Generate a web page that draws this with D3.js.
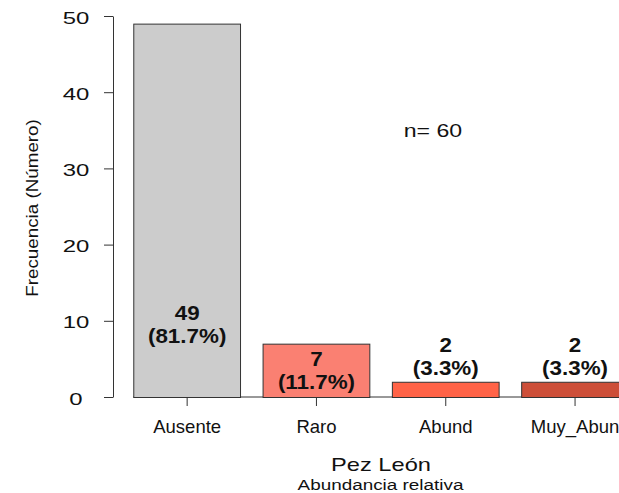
<!DOCTYPE html>
<html>
<head>
<meta charset="utf-8">
<script src="https://cdn.jsdelivr.net/npm/d3@7"></script>
<style>
  body { margin: 0; background: #fff; }
  svg { display: block; font-family: "Liberation Sans", Arial, sans-serif; }
</style>
</head>
<body>
<div id="chart"></div>
<script>
// data
var categories = ["Ausente", "Raro", "Abund", "Muy_Abun"];
var counts = [49, 7, 2, 2];
var percents = ["81.7%", "11.7%", "3.3%", "3.3%"];
var barColors = ["#cccccc", "#fa8072", "#ff6347", "#cd4f39"];
var yTicks = [0, 10, 20, 30, 40, 50];
var total = 60;

var svgWidth = 619;
var svgHeight = 493;

var svg = d3.select("#chart")
    .append("svg")
    .attr("width", svgWidth)
    .attr("height", svgHeight);

// scales
var xScale = d3.scaleBand()
    .domain(categories)
    .range([122.5, 639.7])
    .paddingInner(1 / 6)
    .paddingOuter(1 / 12);

var yScale = d3.scaleLinear()
    .domain([0, 50])
    .range([397, 16]);

// helper for horizontally stretched text
function stretchText(g, x, y, sx, size, weight, txt) {
    return g.append("text")
        .attr("transform", `translate(${x}, ${y}) scale(${sx}, 1)`)
        .attr("text-anchor", "middle")
        .attr("dominant-baseline", "central")
        .style("font-size", size + "px")
        .style("font-weight", weight)
        .attr("fill", "#111")
        .text(txt);
}

// y axis
var leftAxis = d3.axisLeft(yScale)
    .tickValues(yTicks)
    .tickSize(9)
    .tickSizeOuter(0)
    .tickFormat("");

var yAxis = svg.append("g")
    .attr("transform", "translate(113, 0)")
    .call(leftAxis);
yAxis.select(".domain").attr("stroke", "#333");
yAxis.selectAll(".tick line").attr("stroke", "#333");

yTicks.forEach(function (t) {
    stretchText(svg, 76, yScale(t) + 1.5, 1.45, 16.5, "normal", t);
});

// y title
svg.append("text")
    .attr("transform", "translate(32, 208) rotate(-90) scale(1.14, 1)")
    .attr("text-anchor", "middle")
    .attr("dominant-baseline", "central")
    .style("font-size", "16.5px")
    .attr("fill", "#111")
    .text("Frecuencia (Número)");

// baseline under the bars
svg.append("line")
    .attr("x1", xScale(categories[0]))
    .attr("x2", xScale(categories[categories.length - 1]) + xScale.bandwidth())
    .attr("y1", yScale(0))
    .attr("y2", yScale(0))
    .attr("stroke", "#333");

// bars
svg.selectAll("rect.bar")
    .data(categories)
    .enter()
    .append("rect")
    .attr("class", "bar")
    .attr("x", d => xScale(d) + 0.5)
    .attr("y", (d, i) => yScale(counts[i]) + 0.5)
    .attr("width", xScale.bandwidth() - 1)
    .attr("height", (d, i) => yScale(0) - yScale(counts[i]))
    .attr("fill", (d, i) => barColors[i])
    .attr("stroke", "#333")
    .attr("stroke-width", 1);

// x axis (ticks + names)
var bottomAxis = d3.axisBottom(xScale)
    .tickSize(9)
    .tickSizeOuter(0)
    .tickFormat("");

var xAxis = svg.append("g")
    .attr("transform", `translate(0, ${yScale(0)})`)
    .call(bottomAxis);
xAxis.select(".domain").remove();
xAxis.selectAll(".tick line").attr("stroke", "#333");

categories.forEach(function (c) {
    stretchText(svg, xScale(c) + xScale.bandwidth() / 2, 426, 1.0, 18.5, "normal", c);
});

// value labels
function labelValue(v) {
    if (v >= 20) return 9.6;
    if (v >= 5) return v / 2;
    return v + 3.4;
}

categories.forEach(function (c, i) {
    var cx = xScale(c) + xScale.bandwidth() / 2;
    var cy = yScale(labelValue(counts[i]));
    stretchText(svg, cx, cy - 11, 1.12, 20, "bold", counts[i]);
    stretchText(svg, cx, cy + 12, 1.12, 20, "bold", "(" + percents[i] + ")");
});

// sample size
stretchText(svg, 433, 131, 1.32, 17.5, "normal", "n= " + total);

// titles
stretchText(svg, 381, 465, 1.27, 18.6, "normal", "Pez León");
stretchText(svg, 380.5, 485, 1.22, 15.5, "normal", "Abundancia relativa");
</script>
</body>
</html>
